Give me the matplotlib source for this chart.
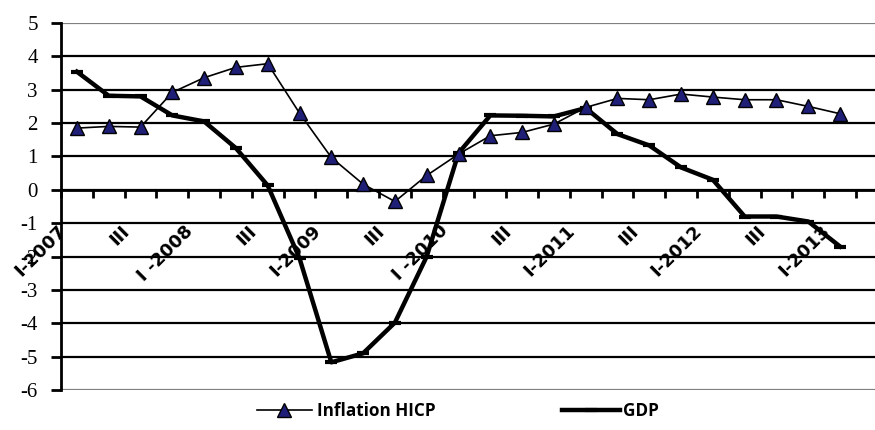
import numpy as np
import matplotlib
matplotlib.use('Agg')
from matplotlib import pyplot as plt
from matplotlib.transforms import ScaledTranslation

quarters = ['I-2007', 'II', 'III', 'IV', 'I -2008', 'II', 'III', 'IV',
            'I-2009', 'II', 'III', 'IV', 'I -2010', 'II', 'III', 'IV',
            'I-2011', 'II', 'III', 'IV', 'I-2012', 'II', 'III', 'IV', 'I-2013']
inflation = [1.85, 1.9, 1.88, 2.92, 3.36, 3.67, 3.78, 2.3, 0.97, 0.17, -0.35,
             0.43, 1.07, 1.62, 1.72, 1.97, 2.47, 2.74, 2.7, 2.87, 2.78, 2.7,
             2.7, 2.5, 2.28]
gdp = [3.54, 2.82, 2.8, 2.23, 2.05, 1.25, 0.13, -2.05, -5.17, -4.9, -3.98,
       -2.0, 1.1, 2.23, 2.22, 2.2, 2.45, 1.67, 1.33, 0.67, 0.3, -0.8, -0.8,
       -0.95, -1.7]
yticks = list(range(-6, 6))

W, H = 875, 430
fig = plt.figure(figsize=(W / 100, H / 100), dpi=100)
ax = fig.add_axes([61 / W, 1 - 390 / H, (W - 61) / W, (390 - 23) / H])

x = np.arange(len(quarters))

# grid lines
for v in yticks:
    col = '#808080' if v in (5, -6) else 'black'
    ax.axhline(v, color=col, lw=1.6, zorder=1)

l1, = ax.plot(x, inflation, color='black', lw=1.2, marker='^', ms=10,
              mfc='#1F1F78', mec='black', mew=1.0, zorder=4)
l2, = ax.plot(x, gdp, color='black', lw=3.2, marker='_', ms=9, mew=3,
              zorder=3)

ax.set_xlim(-0.5, -0.5 + (W - 61) / 31.8)
ax.set_ylim(-6, 5)

for s in ['top', 'right']:
    ax.spines[s].set_visible(False)
ax.spines['left'].set_linewidth(2)
ax.spines['left'].set_bounds(-6, 5)
ax.spines['bottom'].set_position(('data', 0))
ax.spines['bottom'].set_linewidth(2)

ax.set_yticks(yticks)
ax.set_yticklabels([str(v) for v in yticks], fontfamily='Liberation Serif',
                   fontsize=15)
ax.tick_params(axis='y', direction='out', length=7.2, width=2, pad=9.5)

ax.set_xticks(np.arange(-0.5, len(quarters), 1), minor=True)
ax.tick_params(axis='x', which='minor', direction='out', length=6, width=2)
ax.set_xticks(x[::2])
labs = [quarters[i] for i in range(0, len(quarters), 2)]
ax.set_xticklabels(labs, rotation=45, ha='right', va='top',
                   fontfamily='DejaVu Sans', fontweight='bold', fontsize=13)
ax.tick_params(axis='x', which='major', length=0, pad=23)
for lab in ax.get_xticklabels():
    lab.set_transform(lab.get_transform() +
                      ScaledTranslation(-0.07, 0, fig.dpi_scale_trans))

prop = {'family': 'Open Sans', 'weight': 'bold', 'size': 12.3}
fig.legend([l1], ['Inflation HICP'], loc='center left',
           bbox_to_anchor=(257 / W, 1 - 411 / H), frameon=False,
           handlelength=3.2, handletextpad=0.3, borderpad=0,
           borderaxespad=0, prop=prop)
fig.legend([l2], ['GDP'], loc='center left',
           bbox_to_anchor=(562 / W, 1 - 411 / H), frameon=False,
           handlelength=3.4, handletextpad=0.15, borderpad=0,
           borderaxespad=0, prop=prop)

fig.savefig('out.png', dpi=100)
